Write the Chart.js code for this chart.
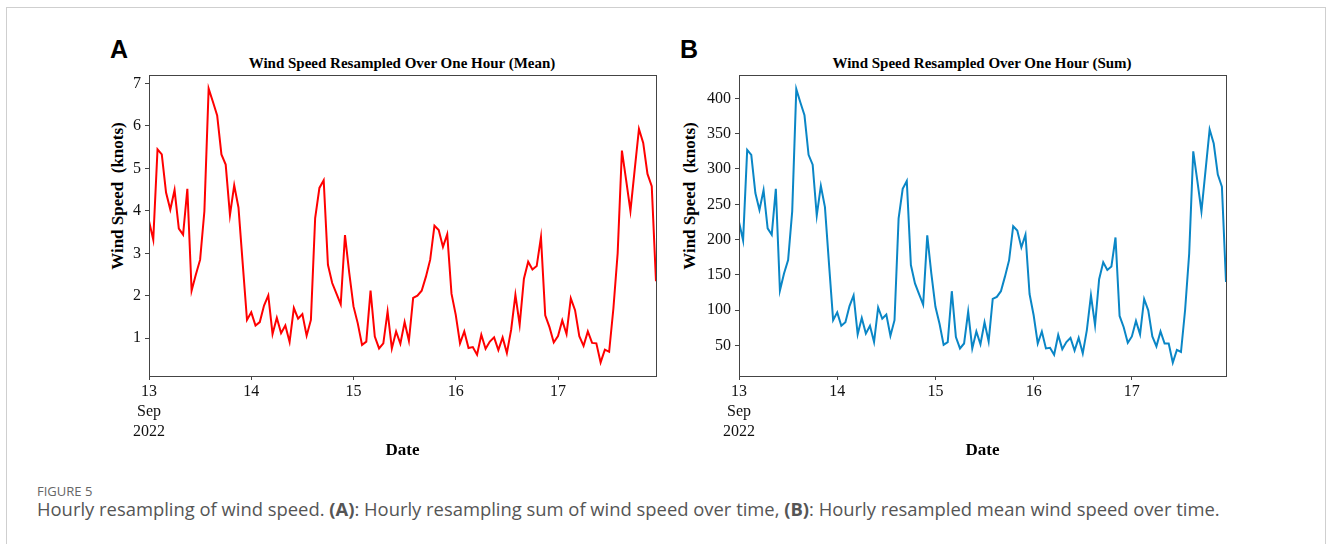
<!DOCTYPE html>
<html>
<head>
<meta charset="utf-8">
<script src="https://cdn.jsdelivr.net/npm/chart.js@4/dist/chart.umd.min.js"></script>
<style>
  body { margin: 0; width: 1333px; height: 544px; background: #fff; position: relative; overflow: hidden; }
  .card { position: absolute; left: 6px; top: 7px; width: 1320px; height: 560px; border: 1px solid #cfcfcf; box-sizing: border-box; }
  canvas { position: absolute; }
  .lbl { position: absolute; font-family: "Liberation Sans", Arial, sans-serif; font-weight: bold; font-size: 25px; color: #000; }
  .ttl { position: absolute; font-family: "Liberation Serif", "Times New Roman", serif; font-weight: bold; font-size: 15px; color: #000; transform: translate(-50%, -50%); white-space: nowrap; }
  .ylab { position: absolute; font-family: "Liberation Serif", "Times New Roman", serif; font-weight: bold; font-size: 17px; color: #000; transform: translate(-50%, -50%) rotate(-90deg); white-space: pre; }
  .fig { position: absolute; left: 37px; top: 482px; font-family: "Open Sans", "Noto Sans", sans-serif; font-size: 13px; color: #666; }
  .cap { position: absolute; left: 37px; top: 496px; font-family: "Open Sans", "Noto Sans", sans-serif; font-size: 18.4px; color: #555; white-space: nowrap; }
</style>
</head>
<body>
<div class="card"></div>
<div class="lbl" style="left:110px; top:35px;">A</div>
<div class="lbl" style="left:680px; top:35px;">B</div>
<div class="ttl" style="left:402px; top:63px;">Wind Speed Resampled Over One Hour (Mean)</div>
<div class="ttl" style="left:982px; top:63px;">Wind Speed Resampled Over One Hour (Sum)</div>
<div class="ylab" style="left:118px; top:196px;">Wind Speed  (knots)</div>
<div class="ylab" style="left:690px; top:196px;">Wind Speed  (knots)</div>
<canvas id="chartMean" style="left:100px; top:60px;"></canvas>
<canvas id="chartSum" style="left:690px; top:60px;"></canvas>
<div class="fig">FIGURE 5</div>
<div class="cap">Hourly resampling of wind speed. <b>(A)</b>: Hourly resampling sum of wind speed over time, <b>(B)</b>: Hourly resampled mean wind speed over time.</div>

<script>
/* ================================
   Data (hourly, 13 Sep 00:00 .. 17 Sep 23:00, 2022)
   ================================ */
const dayTickHours = [0, 24, 48, 72, 96];
const dayTickLabels = [["13", "Sep", "2022"], "14", "15", "16", "17"];

const meanTicks = [1, 2, 3, 4, 5, 6, 7];
const sumTicks = [50, 100, 150, 200, 250, 300, 350, 400];

const meanSpeed = [
  3.76, 3.32, 5.45, 5.33, 4.43, 4.03, 4.49, 3.58, 3.44, 4.52, 2.12, 2.50,
  2.85, 3.99, 6.88, 6.57, 6.25, 5.33, 5.09, 3.90, 4.60, 4.08, 2.75, 1.43,
  1.61, 1.30, 1.38, 1.77, 2.01, 1.10, 1.48, 1.12, 1.30, 0.91, 1.71, 1.46,
  1.57, 1.06, 1.43, 3.83, 4.54, 4.72, 2.73, 2.30, 2.05, 1.80, 3.43, 2.54,
  1.75, 1.35, 0.84, 0.92, 2.12, 1.04, 0.76, 0.88, 1.63, 0.76, 1.16, 0.87,
  1.38, 0.94, 1.95, 2.00, 2.12, 2.45, 2.85, 3.65, 3.55, 3.15, 3.45, 2.05,
  1.55, 0.88, 1.16, 0.77, 0.79, 0.61, 1.08, 0.75, 0.92, 1.02, 0.72, 1.02,
  0.65, 1.20, 2.02, 1.32, 2.40, 2.80, 2.62, 2.70, 3.38, 1.54, 1.26, 0.90,
  1.05, 1.42, 1.10, 1.94, 1.66, 1.05, 0.82, 1.16, 0.89, 0.88, 0.43, 0.73,
  0.68, 1.70, 3.00, 5.42, 4.72, 4.00, 4.97, 5.93, 5.60, 4.87, 4.58, 2.34
];

const sumSpeed = [
  225, 199, 327, 320, 266, 242, 270, 216, 207, 272, 128, 152,
  171, 240, 413, 394, 376, 320, 306, 234, 276, 246, 165, 86,
  97, 78, 83, 106, 121, 66, 89, 67, 78, 55, 104, 88,
  94, 64, 86, 230, 272, 283, 164, 138, 123, 108, 206, 152,
  105, 81, 51, 55, 127, 62, 46, 53, 98, 46, 70, 52,
  83, 56, 116, 119, 127, 148, 171, 219, 213, 189, 207, 123,
  93, 53, 70, 46, 47, 37, 65, 45, 55, 61, 43, 61,
  39, 72, 121, 79, 144, 168, 157, 162, 203, 92, 76, 54,
  63, 85, 66, 116, 100, 63, 49, 70, 53, 53, 26, 44,
  41, 100, 180, 325, 283, 240, 298, 356, 336, 292, 275, 140
];

/* ================================
   Chart helpers
   ================================ */
const serif = "'Liberation Serif', 'Times New Roman', serif";
const axisColor = "#444";

// draws the closed box round the plot area
const frameBox = {
  id: "frameBox",
  afterDraw(chart) {
    const { ctx, chartArea: a } = chart;
    ctx.save();
    ctx.strokeStyle = axisColor;
    ctx.lineWidth = 1;
    ctx.strokeRect(Math.round(a.left) + 0.5, Math.round(a.top) + 0.5,
      Math.round(a.right - a.left), Math.round(a.bottom - a.top));
    ctx.restore();
  }
};

function makeChart(id, width, values, color, yMin, yMax, yTicks) {
  const canvas = document.getElementById(id);
  canvas.width = width;
  canvas.height = 400;
  canvas.style.width = width + "px";
  canvas.style.height = "400px";

  return new Chart(canvas.getContext("2d"), {
    type: "line",
    data: {
      datasets: [{
        data: values.map((v, i) => ({ x: i, y: v })),
        borderColor: color,
        borderWidth: 2,
        pointRadius: 0,
        tension: 0,
        fill: false
      }]
    },
    options: {
      responsive: false,
      animation: false,
      layout: { padding: { top: 15, right: 24, left: 0, bottom: 0 } },
      plugins: { legend: { display: false }, tooltip: { enabled: false } },
      scales: {
        x: {
          type: "linear",
          min: 0,
          max: values.length - 1,
          border: { display: false },
          grid: { drawOnChartArea: false, drawTicks: true, tickLength: 4, color: axisColor },
          afterBuildTicks: (scale) => { scale.ticks = dayTickHours.map((h) => ({ value: h })); },
          afterFit: (scale) => { scale.height = 84; },
          ticks: {
            maxRotation: 0,
            autoSkip: false,
            padding: 2,
            color: "#111",
            font: { family: serif, size: 16, lineHeight: 1.25 },
            callback: (value) => dayTickLabels[dayTickHours.indexOf(value)]
          },
          title: {
            display: true,
            text: "Date",
            color: "#000",
            font: { family: serif, size: 17, weight: "bold" },
            padding: { top: 0, bottom: -1 }
          }
        },
        y: {
          min: yMin,
          max: yMax,
          border: { display: false },
          grid: { drawOnChartArea: false, drawTicks: true, tickLength: 4, color: axisColor },
          afterBuildTicks: (scale) => { scale.ticks = yTicks.map((v) => ({ value: v })); },
          afterFit: (scale) => { scale.width = 49; },
          ticks: {
            padding: 4,
            color: "#111",
            font: { family: serif, size: 16 }
          }
        }
      }
    },
    plugins: [frameBox]
  });
}

makeChart("chartMean", 580, meanSpeed, "#ff0000", 0.11, 7.2, meanTicks);
makeChart("chartSum", 560, sumSpeed, "#0a86c6", 7, 433, sumTicks);
</script>
</body>
</html>
